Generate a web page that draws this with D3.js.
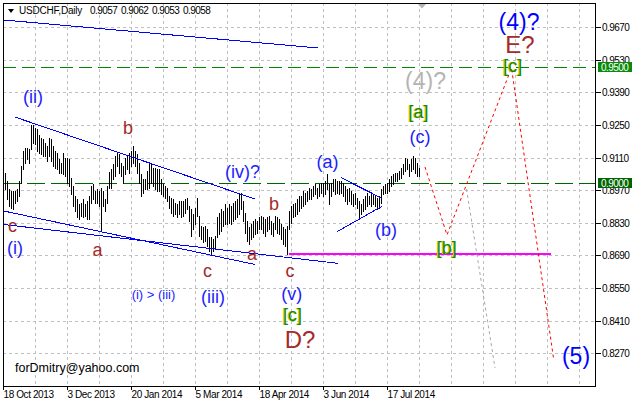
<!DOCTYPE html>
<html><head><meta charset="utf-8">
<script src="https://cdn.jsdelivr.net/npm/d3@7"></script>
<style>
body{margin:0;background:#fff}
svg{display:block}
text{font-family:"Liberation Sans",Arial,sans-serif}
</style>
</head><body>
<svg id="chart" width="632" height="404"></svg>
<script>
// ---------- DATA ----------
const symbolTitle = "USDCHF,Daily";
const titleQuote = ["0.9057","0.9062","0.9053","0.9058"];
const dateLabels = ["18 Oct 2013","3 Dec 2013","20 Jan 2014","5 Mar 2014","18 Apr 2014","3 Jun 2014","17 Jul 2014"];
const dateTickIdx = [0,32,64,96,128,160,192];
const priceTicks = [0.9670,0.9530,0.9390,0.9250,0.9110,0.8970,0.8830,0.8690,0.8550,0.8410,0.8270];
const levelPrices = [0.9500, 0.9000];
const firstBarIdx = 1;
const highs = [
0.9045,0.9010,0.8974,0.8967,0.8967,0.8967,0.8974,0.9010,0.9074,0.9138,0.9152,0.9152,0.9145,0.9252,0.9252,0.9238,0.9231,0.9209,0.9195,0.9188,
0.9174,0.9159,0.9195,0.9188,0.9159,0.9138,0.9131,0.9102,0.9088,0.9131,0.9110,0.9110,0.9102,0.9024,0.8988,0.8945,0.8931,0.8910,0.8917,0.8931,
0.8910,0.8924,0.8945,0.8988,0.8995,0.8967,0.8974,0.8967,0.8981,0.8967,0.8931,0.8988,0.9050,
0.9060,0.9081,0.9117,0.9131,0.9124,0.9088,0.9074,0.9109,0.9117,0.9131,0.9138,0.9159,0.9138,0.9124,0.9088,0.9038,0.9017,0.9017,0.9052,0.9081,
0.9088,0.9067,0.9067,0.9060,0.9060,0.9017,0.8995,0.8988,0.8981,0.8945,0.8938,0.8931,0.8917,0.8910,0.8924,0.8924,0.8924,0.8931,0.8938,0.8903,
0.8888,0.8867,0.8895,0.8938,0.8860,0.8817,0.8810,0.8817,0.8803,0.8767,0.8767,0.8760,0.8774,
0.8853,0.8874,0.8888,0.8881,0.8910,0.8895,0.8910,0.8903,0.8917,0.8924,0.8931,0.8952,0.8960,0.8924,0.8874,0.8838,0.8810,0.8824,0.8838,0.8845,
0.8838,0.8853,0.8860,0.8853,0.8845,0.8853,0.8860,0.8838,0.8831,0.8860,0.8853,0.8845,0.8824,0.8810,0.8803,0.8817,0.8881,0.8903,0.8910,0.8917,
0.8931,0.8945,0.8945,0.8967,0.8960,0.8967,0.8981,0.8974,0.8988,0.8995,0.8981,0.8995,
0.9002,0.9002,0.9010,0.9038,0.8995,0.9002,0.9017,0.9017,0.9010,0.9010,0.9010,0.9002,0.8988,0.8974,0.8981,0.8967,0.8952,0.8960,0.8938,0.8924,
0.8910,0.8931,0.8945,0.8960,0.8945,0.8952,0.8952,0.8945,0.8938,0.8945,0.8974,0.8988,0.8995,0.9002,0.9017,0.9031,0.9038,0.9045,0.9045,0.9052,
0.9067,0.9081,0.9109,0.9102,0.9081,0.9102,0.9117,0.9109,0.9088,0.9067];
const lows = [
0.8974,0.8931,0.8903,0.8895,0.8888,0.8917,0.8924,0.8945,0.9002,0.9060,0.9088,0.9102,0.9088,0.9145,0.9174,0.9167,0.9138,0.9131,0.9124,0.9117,
0.9117,0.9095,0.9117,0.9095,0.9074,0.9067,0.9060,0.9045,0.9045,0.9038,0.9031,0.9002,0.8988,0.8952,0.8903,0.8881,0.8853,0.8845,0.8860,0.8853,
0.8860,0.8845,0.8845,0.8917,0.8931,0.8917,0.8917,0.8903,0.8800,0.8903,0.8881,0.8917,0.8980,
0.8981,0.9017,0.9031,0.9074,0.9045,0.9031,0.9002,0.9038,0.9060,0.9045,0.9074,0.9088,0.9074,0.9045,0.9002,0.8945,0.8960,0.8974,0.8974,0.8981,
0.9002,0.8988,0.8974,0.8967,0.8967,0.8952,0.8945,0.8938,0.8924,0.8895,0.8874,0.8860,0.8867,0.8853,0.8867,0.8853,0.8860,0.8874,0.8888,0.8838,
0.8774,0.8803,0.8824,0.8860,0.8774,0.8760,0.8746,0.8753,0.8731,0.8710,0.8696,0.8710,0.8717,
0.8767,0.8781,0.8796,0.8817,0.8824,0.8824,0.8831,0.8824,0.8838,0.8845,0.8853,0.8867,0.8888,0.8838,0.8788,0.8753,0.8738,0.8760,0.8767,0.8781,
0.8788,0.8803,0.8803,0.8788,0.8774,0.8796,0.8803,0.8781,0.8774,0.8803,0.8788,0.8781,0.8760,0.8738,0.8731,0.8696,0.8803,0.8831,0.8853,0.8860,
0.8867,0.8881,0.8895,0.8903,0.8910,0.8924,0.8931,0.8931,0.8945,0.8952,0.8938,0.8945,
0.8960,0.8945,0.8952,0.8974,0.8910,0.8945,0.8967,0.8952,0.8960,0.8952,0.8960,0.8945,0.8924,0.8910,0.8924,0.8910,0.8903,0.8910,0.8895,0.8853,
0.8867,0.8881,0.8888,0.8903,0.8910,0.8903,0.8910,0.8903,0.8888,0.8895,0.8917,0.8952,0.8960,0.8960,0.8967,0.8988,0.8995,0.9010,0.9010,0.9017,
0.9024,0.9038,0.9052,0.9060,0.9031,0.9052,0.9060,0.9045,0.9031,0.9031];

// trend lines: [startIdx, startPrice, endIdx, endPrice]
const trendTop      = [0, 0.9701, 157, 0.9581];
const channelUpper  = [5.75, 0.9284, 125.75, 0.8932];
const channelLowerA = [0, 0.8881, 125.75, 0.8651];
const channelLowerB = [0, 0.8823, 167.25, 0.8656];
const triangleUpper = [168.75, 0.9024, 189.25, 0.8935];
const triangleLower = [166.75, 0.8792, 189.25, 0.8901];
const supportLevel  = [142.75, 0.8695, 273.75, 0.8695];
const forecastIdx   = [210.75, 221.75, 254, 275];
const forecastPrice = [0.9070, 0.8778, 0.9495, 0.8249];
const altIdx        = [231.5, 245.75];
const altPrice      = [0.8975, 0.8207];

// wave labels: text, bar index, price (baseline)
const waveText  = ["(ii)","b","c","(i)","a","(iv)?","b","a","c","c","(iii)","(v)","[c]","D?","(i) > (iii)","(a)","(b)","(c)","[a]","[b]","(4)?","(4)?","E?","[c]","(5)"];
const waveIdx   = [14.75,62.25,4.5,5.75,47,119.5,135.25,124.25,102,143.25,104.75,144.1,144.5,148.25,75,162,191.25,208.25,207.5,221.6,211,257.75,258.25,254.6,286.25];
const wavePrice = [0.93445,0.92114,0.87906,0.86961,0.86875,0.90224,0.88850,0.86704,0.85974,0.85974,0.84857,0.84986,0.84084,0.82925,0.85029,0.90654,0.87734,0.91727,0.92801,0.86968,0.94067,0.96579,0.95579,0.94776,0.82238];
const waveKind  = ["blue","brown","brown","blue","brown","blue","brown","brown","brown","brown","blue","blue","green","brownBig","blueSmall","blue","blue","blue","green","green","grayBig","blueBig","brownBig","green","blueBig"];

// ---------- DRAW ----------
const svg = d3.select("#chart");
const L=3, T=3, R=595, B=386;
const x = d3.scaleLinear().domain([0, 296]).range([3.5, 595.5]);
const y = d3.scaleLinear().domain([0.9250, 0.8270]).range([125, 353.24]);
const py = v => Math.round(y(v)) + 0.5;

svg.append("rect").attr("width",632).attr("height",404).attr("fill","#fff");
svg.append("defs").append("clipPath").attr("id","plot")
  .append("rect").attr("x",L).attr("y",T).attr("width",R-L+1).attr("height",B-T+1);

const plot = svg.append("g").attr("clip-path","url(#plot)");

// grid
const grid = plot.append("g").attr("stroke","#c0c0c0").attr("stroke-dasharray","3,3").attr("shape-rendering","crispEdges");
grid.selectAll("line.h").data(priceTicks).join("line").attr("class","h")
  .attr("x1",L).attr("x2",R).attr("y1",d=>py(d)).attr("y2",d=>py(d));
grid.selectAll("line.v").data(d3.range(16, 296, 16)).join("line").attr("class","v")
  .attr("x1",d=>x(d)).attr("x2",d=>x(d)).attr("y1",T).attr("y2",B);

// horizontal levels
const levelColor = ["#008800","#006400"];
const levelDash = ["13,6","18,6"];
plot.selectAll("line.lvl").data(levelPrices).join("line").attr("class","lvl")
  .attr("x1",L).attr("x2",R).attr("y1",d=>py(d)).attr("y2",d=>py(d))
  .attr("stroke",(d,i)=>levelColor[i]).attr("stroke-dasharray",(d,i)=>levelDash[i])
  .attr("shape-rendering","crispEdges");

// bars
plot.append("g").selectAll("rect").data(highs).join("rect")
  .attr("x",(d,i)=>x(i+firstBarIdx)-0.5)
  .attr("y",d=>Math.round(y(d)))
  .attr("width",1)
  .attr("height",(d,i)=>Math.max(1, Math.round(y(lows[i]))-Math.round(y(d))+1))
  .attr("fill","#000").attr("shape-rendering","crispEdges");

// trend lines
const seg = (g, s, color, extra) => {
  const l = g.append("line")
    .attr("x1",x(s[0])).attr("y1",y(s[1])).attr("x2",x(s[2])).attr("y2",y(s[3]))
    .attr("stroke",color).attr("stroke-width",1).attr("shape-rendering","crispEdges");
  if (extra) extra(l);
};
[trendTop, channelUpper, channelLowerA, channelLowerB, triangleUpper, triangleLower].forEach(s=>seg(plot,s,"#0000ff"));
plot.append("line")
  .attr("x1",x(supportLevel[0])).attr("x2",x(supportLevel[2]))
  .attr("y1",Math.round(y(supportLevel[1]))).attr("y2",Math.round(y(supportLevel[3])))
  .attr("stroke","#ff00ff").attr("stroke-width",2).attr("shape-rendering","crispEdges");

// forecast paths
const line = d3.line().x(d=>x(d[0])).y(d=>y(d[1]));
plot.append("path").datum(altIdx.map((d,i)=>[d,altPrice[i]]))
  .attr("d",line).attr("fill","none").attr("stroke","#a8a8a8").attr("stroke-dasharray","3,3");
plot.append("path").datum(forecastIdx.map((d,i)=>[d,forecastPrice[i]]))
  .attr("d",line).attr("fill","none").attr("stroke","#ff0000").attr("stroke-dasharray","3,3");

// labels
const styles = {
  blue:{c:"#1c1cff",s:18}, blueSmall:{c:"#1c1cff",s:13}, blueBig:{c:"#0000ff",s:23},
  brown:{c:"#a52a2a",s:18}, brownBig:{c:"#a52a2a",s:24}, green:{c:"#108a00",s:18},
  grayBig:{c:"#b4b4b4",s:23}
};
const lab = plot.append("g");
waveText.forEach((t,i)=>{
  const st = styles[waveKind[i]];
  if (waveKind[i]==="green") {
    lab.append("text").attr("x",x(waveIdx[i])-1).attr("y",y(wavePrice[i]))
      .attr("text-anchor","middle").attr("font-size",st.s).attr("fill","#d8c800").text(t);
  }
  lab.append("text").attr("x",x(waveIdx[i])).attr("y",y(wavePrice[i]))
    .attr("text-anchor","middle").attr("font-size",st.s).attr("fill",st.c).text(t);
});
plot.append("text").attr("x",15).attr("y",372)
  .attr("font-family","'Liberation Serif','Times New Roman',serif").attr("font-size",12.5)
  .attr("fill","#000").text("forDmitry@yahoo.com");

// shift marker
svg.append("path").attr("d","M417.5,3.5 L426.5,3.5 L422,8.5 Z").attr("fill","#b4b4b4");

// frame
svg.append("rect").attr("x",L+0.5).attr("y",T+0.5).attr("width",R-L).attr("height",B-T)
  .attr("fill","none").attr("stroke","#000").attr("shape-rendering","crispEdges");

// right axis
const ay = svg.append("g").attr("transform",`translate(${R+1},0)`)
  .call(d3.axisRight(y).tickValues(priceTicks).tickSize(5).tickPadding(1).tickFormat(d3.format(".4f")));
ay.select(".domain").remove();
ay.selectAll(".tick").attr("transform",d=>`translate(0,${py(d)})`);
ay.selectAll(".tick line").attr("stroke","#000").attr("shape-rendering","crispEdges");
ay.selectAll(".tick text").attr("font-family","'Liberation Sans',Arial,sans-serif")
  .attr("font-size",10).attr("letter-spacing","-0.55px").attr("fill","#000");

// level boxes on axis
const boxFill = ["#0a8a0a","#006400"];
levelPrices.forEach((p,i)=>{
  const yy = Math.round(y(p));
  svg.append("rect").attr("x",598).attr("y",yy-5).attr("width",34).attr("height",10)
    .attr("fill",boxFill[i]).attr("shape-rendering","crispEdges");
  svg.append("text").attr("x",601).attr("y",yy+4).attr("font-size",10)
    .attr("letter-spacing","-0.55px").attr("fill","#fff").text(d3.format(".4f")(p));
});

// bottom axis
const ax = svg.append("g").attr("transform",`translate(0,${B})`)
  .call(d3.axisBottom(x).tickValues(dateTickIdx).tickSize(4).tickPadding(1).tickFormat((d,i)=>dateLabels[i]));
ax.select(".domain").remove();
ax.selectAll(".tick").attr("transform",d=>`translate(${x(d)},0)`);
ax.selectAll(".tick line").attr("stroke","#000").attr("shape-rendering","crispEdges");
ax.selectAll(".tick text").attr("text-anchor","start").attr("x",0)
  .attr("font-family","'Liberation Sans',Arial,sans-serif").attr("font-size",10)
  .attr("letter-spacing","-0.4px").attr("fill","#000");

// title
svg.append("path").attr("d","M8,9 L14,9 L11,13 Z").attr("fill","#000");
svg.append("text").attr("x",19).attr("y",14).attr("font-size",10).attr("letter-spacing","-0.2px")
  .attr("fill","#000").text(symbolTitle);
const qx = [90, 121, 152, 183];
titleQuote.forEach((q,i)=>{
  svg.append("text").attr("x",qx[i]).attr("y",14).attr("font-size",10).attr("letter-spacing","-0.55px")
    .attr("fill","#000").text(q);
});
</script>
</body></html>
